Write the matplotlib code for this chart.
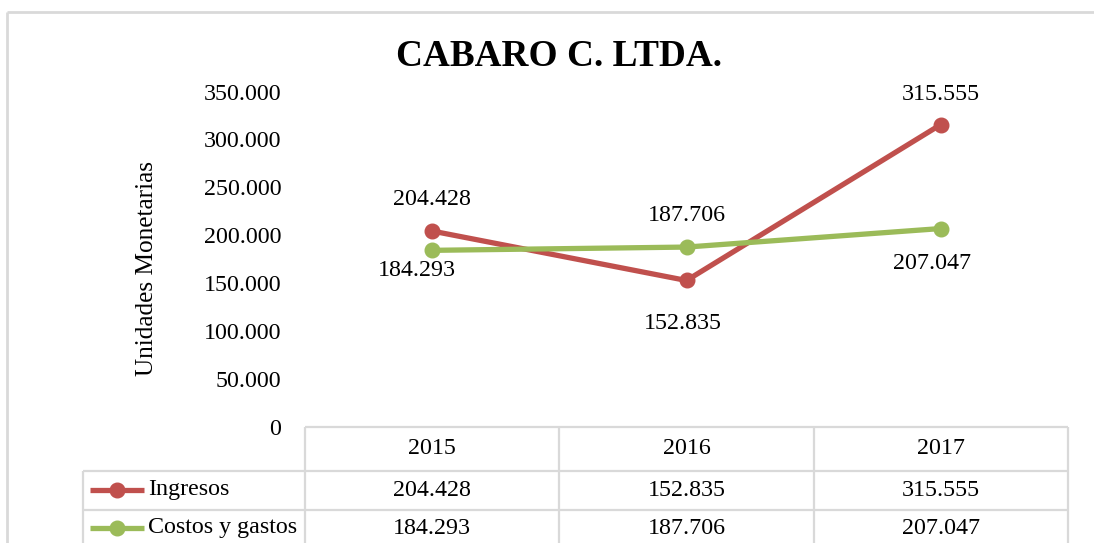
import matplotlib
matplotlib.use("Agg")
import matplotlib.pyplot as plt
from matplotlib import transforms

# ---- data ----
title = "CABARO C. LTDA."
ylabel = "Unidades Monetarias"
years = ["2015", "2016", "2017"]
series_names = ["Ingresos", "Costos y gastos"]
ingresos = [204428, 152835, 315555]
costos = [184293, 187706, 207047]
yticks = [0, 50000, 100000, 150000, 200000, 250000, 300000, 350000]

RED = "#C0504D"
GREEN = "#9BBB59"
GRID = "#d9d9d9"
FONT = "Liberation Serif"
FS = 17.3


def fmt(v):
    return f"{v:,.0f}".replace(",", ".")


W, H = 1094, 543
fig = plt.figure(figsize=(W / 100, H / 100), dpi=100)

# overlay axes in pixel coordinates (for frame and table lines)
ov = fig.add_axes([0, 0, 1, 1], zorder=0)
ov.set_xlim(0, W)
ov.set_ylim(H, 0)
ov.axis("off")

# outer chart border (top and left visible)
ov.plot([7, W + 5], [12, 12], color=GRID, lw=2, solid_capstyle="butt")
ov.plot([7, 7], [12, H + 5], color=GRID, lw=2, solid_capstyle="butt")

# main plot axes
x0, x1, ybot, ytop = 305, 1068, 427, 91.5
ax = fig.add_axes([x0 / W, (H - ybot) / H, (x1 - x0) / W, (ybot - ytop) / H], zorder=2)
ax.patch.set_alpha(0)
xs = list(range(len(years)))
ax.set_xlim(-0.5, len(years) - 0.5)
ax.set_ylim(0, 350000)
for s in ax.spines.values():
    s.set_visible(False)
ax.set_xticks([])
ax.set_yticks(yticks)
ax.set_yticklabels([fmt(v) for v in yticks], fontfamily=FONT, fontsize=FS)
ax.tick_params(axis="y", length=0, pad=17)
ax.set_ylabel(ylabel, fontfamily=FONT, fontsize=18.2)
ax.yaxis.set_label_coords(-(x0 - 158) / (x1 - x0), (ybot - 268) / (ybot - ytop))

ax.plot(xs, ingresos, color=RED, lw=3.8, marker="o", ms=10.5, clip_on=False, zorder=3)
ax.plot(xs, costos, color=GREEN, lw=3.8, marker="o", ms=10.5, clip_on=False, zorder=3)

ing_off = [(0, 32), (-4, -43), (0, 30)]
cos_off = [(-15, -20), (0, 32), (-9, -35)]
for vals, offs in ((ingresos, ing_off), (costos, cos_off)):
    for x, v, o in zip(xs, vals, offs):
        ax.annotate(fmt(v), (x, v), xytext=o, textcoords="offset pixels",
                    ha="center", va="center", fontfamily=FONT, fontsize=FS,
                    color="#000000")

fig.text(559 / W, 1 - 56 / H, title, ha="center", va="center",
         fontfamily=FONT, fontsize=26.8, fontweight="bold")

# ---- data table ----
tr = transforms.blended_transform_factory(ax.transData, ov.transData)
row_top, row1, row2 = 427, 471, 510
lw_t = 1.6
# horizontal lines
ov.plot([x0, x1], [row_top, row_top], color=GRID, lw=lw_t, solid_capstyle="butt")
ov.plot([83, x1], [row1, row1], color=GRID, lw=lw_t, solid_capstyle="butt")
ov.plot([83, x1], [row2, row2], color=GRID, lw=lw_t, solid_capstyle="butt")
# vertical lines
for bx in [-0.5 + i for i in range(len(years) + 1)]:
    ax.plot([bx, bx], [row_top, H + 5], transform=tr, color=GRID, lw=lw_t,
            clip_on=False, solid_capstyle="butt", zorder=1)
ov.plot([83, 83], [row1, H + 5], color=GRID, lw=lw_t, solid_capstyle="butt")

row_centers = [449, 490, 528]
for x, yr in zip(xs, years):
    ax.text(x, row_centers[0], yr, transform=tr, ha="center", va="center",
            fontfamily=FONT, fontsize=FS)
for rc, vals in zip(row_centers[1:], (ingresos, costos)):
    for x, v in zip(xs, vals):
        ax.text(x, rc, fmt(v), transform=tr, ha="center", va="center",
                fontfamily=FONT, fontsize=FS)

# legend keys in table
for rc, name, col in zip(row_centers[1:], series_names, (RED, GREEN)):
    ov.plot([90, 144], [rc, rc], color=col, lw=3.8, solid_capstyle="butt")
    ov.plot([117], [rc], marker="o", ms=10.5, color=col)
    ov.text(148, rc, name, ha="left", va="center", fontfamily=FONT, fontsize=FS)

fig.savefig("out.png", dpi=100)
